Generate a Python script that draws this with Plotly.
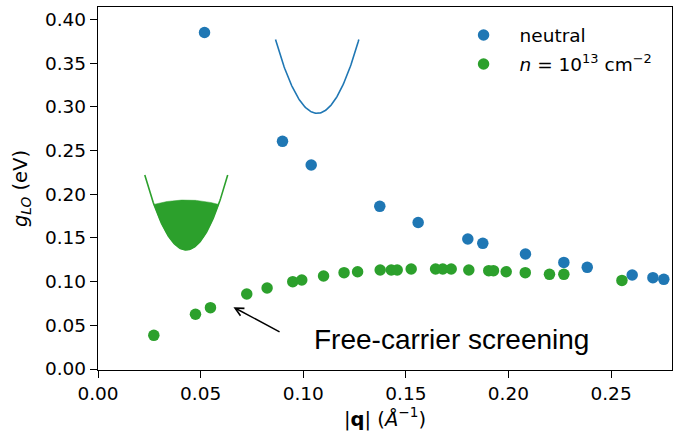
import numpy as np
import plotly.graph_objects as go

# ---- data ----
neutral_q = [0.0519, 0.0899, 0.1039, 0.1373, 0.1560, 0.1802, 0.1875, 0.2083,
             0.2270, 0.2384, 0.2603, 0.2704, 0.2757]
neutral_g = [0.385, 0.2605, 0.2334, 0.1861, 0.1676, 0.1487, 0.1438, 0.1316,
             0.1220, 0.1163, 0.1075, 0.1045, 0.1026]

doped_q = [0.0272, 0.0475, 0.0548, 0.0725, 0.0824, 0.0949, 0.0993, 0.1099,
           0.1199, 0.1265, 0.1375, 0.1429, 0.1458, 0.1526, 0.1645, 0.1680,
           0.1721, 0.1807, 0.1904, 0.1927, 0.1989, 0.2082, 0.2200, 0.2270,
           0.2553]
doped_g = [0.0385, 0.0626, 0.0702, 0.0858, 0.0927, 0.0999, 0.1018, 0.1064,
           0.1102, 0.1113, 0.1133, 0.1133, 0.1133, 0.1144, 0.1144, 0.1144,
           0.1144, 0.1133, 0.1125, 0.1125, 0.1113, 0.1102, 0.1083, 0.1083,
           0.1014]

x_ticks = [0.00, 0.05, 0.10, 0.15, 0.20, 0.25]
y_ticks = [0.00, 0.05, 0.10, 0.15, 0.20, 0.25, 0.30, 0.35, 0.40]

# schematic band insets: vertex x, vertex y, curvature, half width
blue_band = [0.1068, 0.2926, 205.0, 0.0203]
green_band = [0.0430, 0.1362, 210.0, 0.0202]
green_fermi = [0.1934, 20.4]   # level at centre, downward curvature

BLUE = "#1f77b4"
GREEN = "#2ca02c"

fig = go.Figure()

# blue parabola
vx, vy, a, hw = blue_band
bx = np.linspace(vx - hw, vx + hw, 120)
fig.add_trace(go.Scatter(x=bx, y=vy + a * (bx - vx) ** 2, mode="lines",
                         line=dict(color=BLUE, width=1.6), showlegend=False,
                         hoverinfo="skip"))

# green parabola with filled Fermi sea
vx, vy, a, hw = green_band
lvl, k = green_fermi
dx = np.sqrt((lvl - vy) / (a + k))
fx = np.linspace(vx - dx, vx + dx, 100)
top = lvl - k * (fx - vx) ** 2
bot = vy + a * (fx - vx) ** 2
fig.add_trace(go.Scatter(x=np.concatenate([fx, fx[::-1]]),
                         y=np.concatenate([top, bot[::-1]]),
                         mode="lines", fill="toself", fillcolor=GREEN,
                         line=dict(color=GREEN, width=0.5), showlegend=False,
                         hoverinfo="skip"))
gx = np.linspace(vx - hw, vx + hw, 120)
fig.add_trace(go.Scatter(x=gx, y=vy + a * (gx - vx) ** 2, mode="lines",
                         line=dict(color=GREEN, width=1.6), showlegend=False,
                         hoverinfo="skip"))

# data points
fig.add_trace(go.Scatter(x=neutral_q, y=neutral_g, mode="markers",
                         name="neutral", legendgroup="a",
                         marker=dict(color=BLUE, size=11.5)))
fig.add_trace(go.Scatter(x=doped_q, y=doped_g, mode="markers",
                         name="<i>n</i> = 10<sup>13</sup> cm<sup>\u22122</sup>",
                         legendgroup="b",
                         marker=dict(color=GREEN, size=11.5)))

fig.add_annotation(x=0.0660, y=0.0707, ax=0.0892, ay=0.0416,
                   xref="x", yref="y", axref="x", ayref="y",
                   text="", showarrow=True, arrowhead=5, arrowsize=1.1,
                   arrowwidth=1.5, arrowcolor="black")
fig.add_annotation(x=0.1723, y=0.0335, xref="x", yref="y",
                   text="Free-carrier screening", showarrow=False,
                   font=dict(family="Liberation Sans", size=28, color="black"))

axis_common = dict(showline=True, mirror=True, linecolor="black", linewidth=1.3,
                   ticks="outside", ticklen=7, tickwidth=1.3, tickcolor="black",
                   showgrid=False, zeroline=False, tickformat=".2f",
                   tickfont=dict(family="DejaVu Sans", size=18.5, color="black"))

fig.update_layout(
    width=676, height=436,
    margin=dict(l=98, r=4, t=7, b=66),
    paper_bgcolor="white", plot_bgcolor="white",
    font=dict(family="DejaVu Sans", size=18.5, color="black"),
    xaxis=dict(range=[0, 0.2797], tickvals=x_ticks,
               title=dict(text="|<b>q</b>| (<i>Å</i><sup>\u22121</sup>)",
                          standoff=6,
                          font=dict(family="DejaVu Sans", size=19.5)),
               **axis_common),
    yaxis=dict(range=[-0.00114, 0.4142], tickvals=y_ticks,
               title=dict(text="<i>g</i><sub><i>LO</i></sub> (eV)",
                          standoff=12,
                          font=dict(family="DejaVu Sans", size=19.5)),
               **axis_common),
    legend=dict(x=0.609, y=0.974, xanchor="left", yanchor="top",
                bgcolor="rgba(0,0,0,0)", itemwidth=62,
                traceorder="grouped", tracegroupgap=2,
                font=dict(family="DejaVu Sans", size=18.5, color="black")),
    showlegend=True,
)

fig.write_html("out.html")
